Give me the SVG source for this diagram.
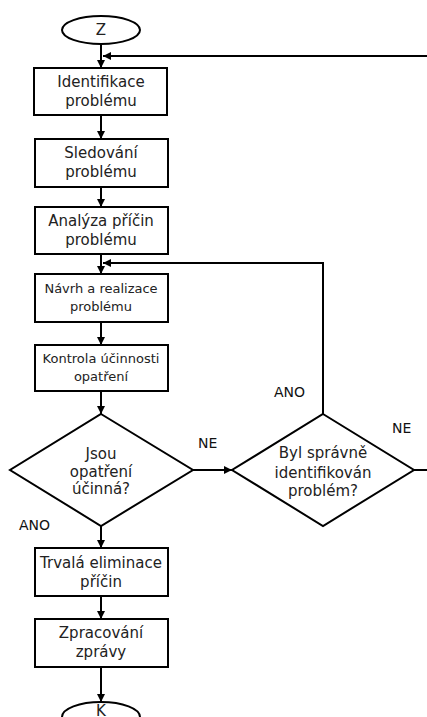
<svg xmlns="http://www.w3.org/2000/svg" width="427" height="717" viewBox="0 0 427 717">
<style>
.n{fill:#fff;stroke:#000;stroke-width:2}
.t{font-family:"DejaVu Sans",sans-serif;font-size:15px;fill:#222;text-anchor:middle}
.s{font-size:13px}
.l{font-family:"DejaVu Sans",sans-serif;font-size:14px;fill:#111}
.c{fill:none;stroke:#000;stroke-width:2}
</style>
<defs>
<marker id="a" viewBox="0 0 8 8" refX="8" refY="4" markerWidth="4" markerHeight="4" orient="auto" markerUnits="strokeWidth">
<path d="M0,0 L8,4 L0,8 Z" fill="#000"/>
</marker>
</defs>
<rect width="427" height="717" fill="#fff"/>
<g id="connectors">
<path class="c" d="M101,44 V68" marker-end="url(#a)"/>
<path class="c" d="M427,56 H103" marker-end="url(#a)"/>
<path class="c" d="M101,115 V139" marker-end="url(#a)"/>
<path class="c" d="M101,187 V207" marker-end="url(#a)"/>
<path class="c" d="M101,254 V274" marker-end="url(#a)"/>
<path class="c" d="M323,414 V263 H103" marker-end="url(#a)"/>
<path class="c" d="M101,322 V345" marker-end="url(#a)"/>
<path class="c" d="M101,391 V414" marker-end="url(#a)"/>
<path class="c" d="M193,470 H232" marker-end="url(#a)"/>
<path class="c" d="M414,470 H427"/>
<path class="c" d="M101,526 V548" marker-end="url(#a)"/>
<path class="c" d="M101,596 V619" marker-end="url(#a)"/>
<path class="c" d="M101,667 V702" marker-end="url(#a)"/>
</g>
<g id="start"><ellipse class="n" cx="101" cy="30" rx="39" ry="14"/><text class="t" x="101" y="35">Z</text></g>
<g id="n1"><rect class="n" x="34" y="68" width="133" height="47"/><text class="t" x="101" y="87">Identifikace</text><text class="t" x="101" y="106">problému</text></g>
<g id="n2"><rect class="n" x="35" y="139" width="133" height="48"/><text class="t" x="101" y="158">Sledování</text><text class="t" x="101" y="177">problému</text></g>
<g id="n3"><rect class="n" x="35" y="207" width="133" height="47"/><text class="t" x="101" y="226">Analýza příčin</text><text class="t" x="101" y="245">problému</text></g>
<g id="n4"><rect class="n" x="35" y="274" width="133" height="48"/><text class="t s" x="101" y="293">Návrh a realizace</text><text class="t s" x="101" y="311">problému</text></g>
<g id="n5"><rect class="n" x="35" y="345" width="133" height="46"/><text class="t s" x="101" y="363">Kontrola účinnosti</text><text class="t s" x="101" y="381">opatření</text></g>
<g id="d1"><path class="n" d="M101,414 L193,470 L101,526 L10,470 Z"/><text class="t" x="101" y="459">Jsou</text><text class="t" x="101" y="477">opatření</text><text class="t" x="101" y="494">účinná?</text></g>
<g id="d2"><path class="n" d="M323,414 L414,470 L323,526 L232,470 Z"/><text class="t" x="323" y="458">Byl správně</text><text class="t" x="323" y="478">identifikován</text><text class="t" x="323" y="496">problém?</text></g>
<g id="n6"><rect class="n" x="35" y="548" width="133" height="48"/><text class="t" x="101" y="568">Trvalá eliminace</text><text class="t" x="101" y="587">příčin</text></g>
<g id="n7"><rect class="n" x="35" y="619" width="133" height="48"/><text class="t" x="101" y="638">Zpracování</text><text class="t" x="101" y="657">zprávy</text></g>
<g id="end"><ellipse class="n" cx="101" cy="717" rx="39" ry="15"/><text class="t" x="101" y="716">K</text></g>
<g id="labels">
<text class="l" x="198" y="448">NE</text>
<text class="l" x="19" y="530">ANO</text>
<text class="l" x="274" y="397">ANO</text>
<text class="l" x="392" y="433">NE</text>
</g>
</svg>
